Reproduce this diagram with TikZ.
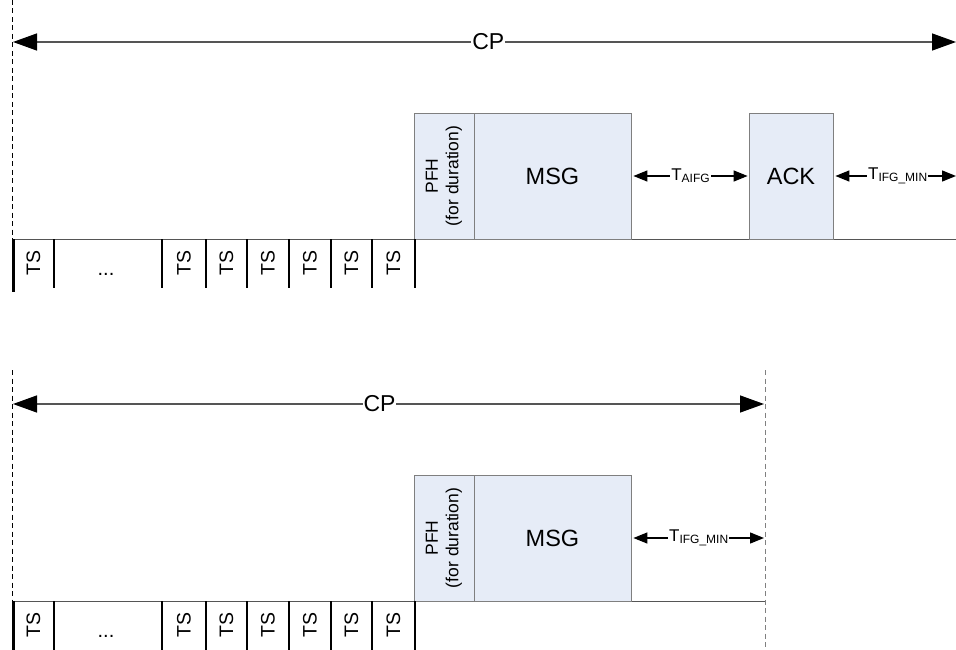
\documentclass[tikz,border=0pt]{standalone}
\usepackage{fontspec}
\setmainfont{Liberation Sans}
\usetikzlibrary{arrows.meta}
\definecolor{boxfill}{HTML}{E6ECF7}
\definecolor{boxline}{HTML}{7F7F7F}
\definecolor{lineg}{HTML}{555555}
\begin{document}
\begin{tikzpicture}[x=1pt,y=-1pt,
  frame/.style={draw=boxline, fill=boxfill, line width=0.8pt, inner sep=0pt},
  bigtext/.style={font=\fontsize{23.5}{27}\selectfont},
  pfhtext/.style={font=\fontsize{17.5}{20.5}\selectfont},
  tslabel/.style={rotate=90, inner sep=0pt, font=\fontsize{19.5}{19.5}\selectfont},
  divider/.style={line width=1.2pt, black},
  guide/.style={dashed, dash pattern=on 5pt off 3.5pt, line width=0.8pt},
  cptip/.style={},
  cparrow/.style={draw=lineg, line width=1.4pt, {Triangle[length=24pt,width=17pt,color=black]}-{Triangle[length=24pt,width=17pt,color=black]}},
  gaparrow/.style={line width=1.3pt, {Triangle[length=14pt,width=11pt]}-{Triangle[length=14pt,width=11pt]}},
  cplabel/.style={fill=white, inner sep=1pt, font=\fontsize{23}{27}\selectfont},
  gaplabel/.style={fill=white, inner sep=1pt, font=\fontsize{17}{17}\selectfont},
  subfont/.style={},
  baseline/.style={draw=lineg, line width=0.9pt}]
\useasboundingbox (0,0) rectangle (956,650);

% ---------------- top diagram ----------------
\coordinate (tl0) at (12,0);
\coordinate (tl1) at (12,239);
\coordinate (cpL1) at (13,42);
\coordinate (cpR1) at (956,42);
\coordinate (bL1) at (12,239);
\coordinate (bR1) at (956,239);
\coordinate (rend1) at (956,176);

\draw[guide] (tl0) -- (tl1);
\draw[baseline] (bL1) -- (bR1);
\draw[cparrow] (cpL1) -- node[cplabel, pos=0.504] (cp1) {CP} (cpR1);

\node[frame, minimum width=60pt, minimum height=126pt] (pfh1) at (444,176) {};
\node[pfhtext, rotate=90, align=center, inner sep=0pt] (pfht1) at (pfh1) {PFH\\(for duration)};
\node[frame, minimum width=157pt, minimum height=126pt, bigtext] (msg1) at (552.5,176) {MSG};
\node[frame, minimum width=84pt, minimum height=126pt, bigtext] (ack1) at (791,176) {ACK};

\draw[gaparrow] ([xshift=2pt]msg1.east) -- node[gaplabel] (taifg1) {T\raisebox{-2pt}{\fontsize{12}{12}\selectfont AIFG}} ([xshift=-1pt]ack1.west);
\draw[gaparrow] ([xshift=2pt]ack1.east) -- node[gaplabel, xshift=2pt] (tifg1) {T\raisebox{-2pt}{\fontsize{12}{12}\selectfont IFG\_MIN}} (rend1);

\draw[line width=3pt] (13,239) -- (13,292);
\foreach \x in {54,162,206,247,289,331,372,415}
  \draw[divider] (\x,239) -- (\x,288);
\foreach \x/\n in {33.5/a,184/b,226.5/c,268/d,310/e,351.5/f,393.5/g}
  \node[tslabel] (tsT\n) at (\x,263) {TS};
\node[anchor=base, inner sep=0pt, font=\fontsize{20}{20}\selectfont] (dotsT) at (106,275) {...};

% ---------------- bottom diagram ----------------
\coordinate (bl0) at (12,370);
\coordinate (bl1) at (12,601);
\coordinate (br0) at (765,370);
\coordinate (br1) at (765,650);
\coordinate (cpL2) at (13,404);
\coordinate (cpR2) at (764,404);
\coordinate (bL2) at (12,601);
\coordinate (bR2) at (765,601);
\coordinate (rend2) at (764,538);

\draw[guide] (bl0) -- (bl1);
\draw[guide, draw=gray] (br0) -- (br1);
\draw[baseline] (bL2) -- (bR2);
\draw[cparrow] (cpL2) -- node[cplabel, pos=0.488] (cp2) {CP} (cpR2);

\node[frame, minimum width=60pt, minimum height=126pt] (pfh2) at (444,538) {};
\node[pfhtext, rotate=90, align=center, inner sep=0pt] (pfht2) at (pfh2) {PFH\\(for duration)};
\node[frame, minimum width=157pt, minimum height=126pt, bigtext] (msg2) at (552.5,538) {MSG};

\draw[gaparrow] ([xshift=2pt]msg2.east) -- node[gaplabel] (tifg2) {T\raisebox{-2pt}{\fontsize{12}{12}\selectfont IFG\_MIN}} (rend2);

\draw[line width=3pt] (13,601) -- (13,650);
\foreach \x in {54,162,206,247,289,331,372,415}
  \draw[divider] (\x,601) -- (\x,650);
\foreach \x/\n in {33.5/a,184/b,226.5/c,268/d,310/e,351.5/f,393.5/g}
  \node[tslabel] (tsB\n) at (\x,625) {TS};
\node[anchor=base, inner sep=0pt, font=\fontsize{20}{20}\selectfont] (dotsB) at (106,637) {...};
\end{tikzpicture}
\end{document}
